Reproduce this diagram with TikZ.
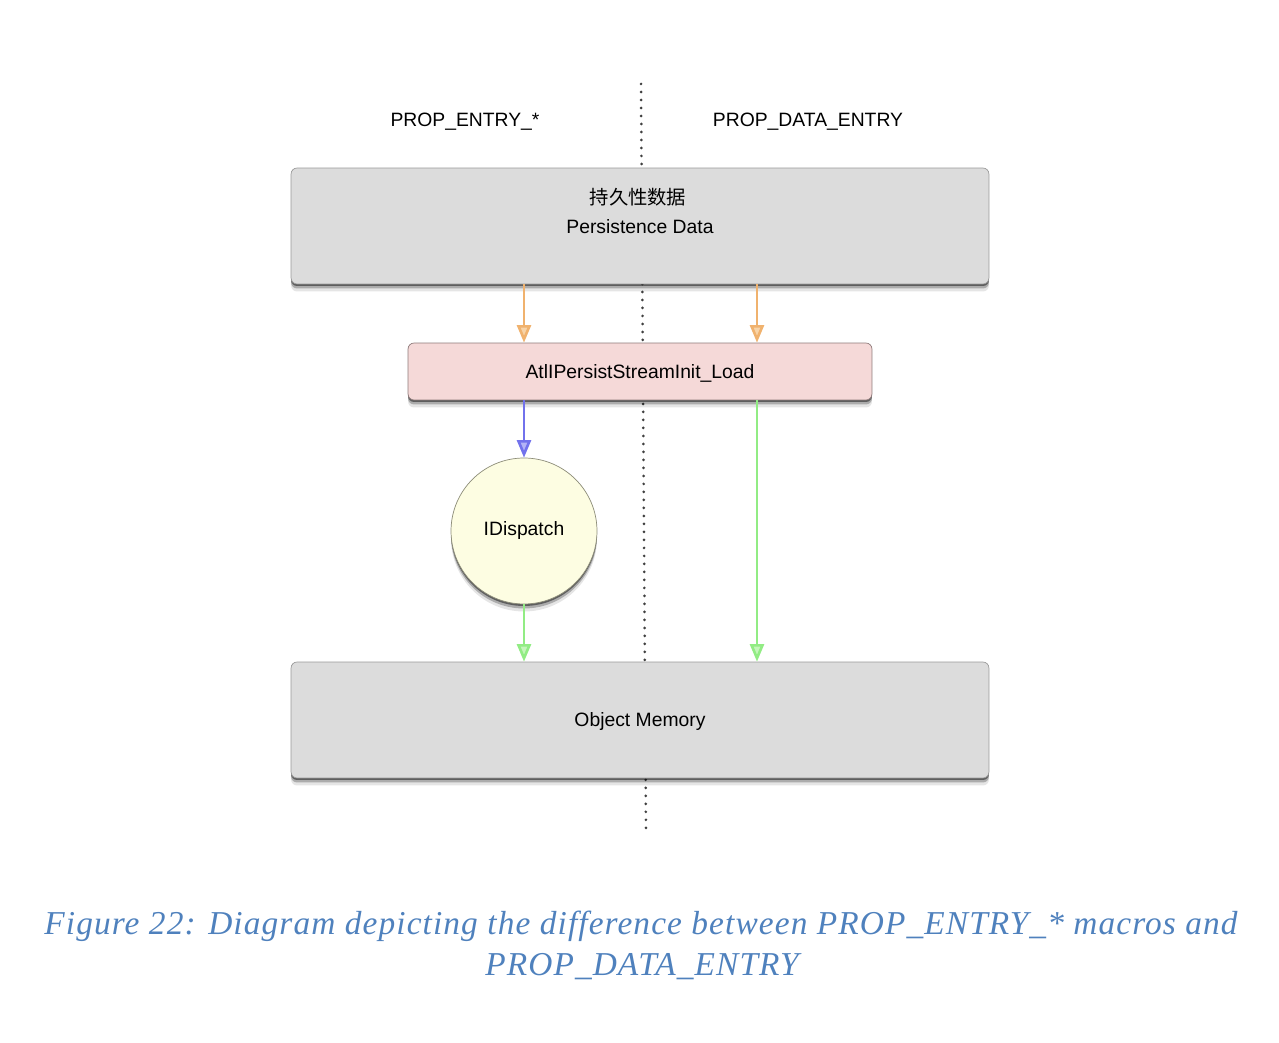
\documentclass[tikz,border=0pt]{standalone}
\usepackage{fontspec}
\setmainfont{Liberation Sans}
\newfontfamily\cjkfont{Noto Sans CJK SC}
\newfontfamily\capfont[LetterSpace=3.3]{Liberation Serif}
\usetikzlibrary{arrows.meta,shadows}

\definecolor{boxgray}{HTML}{DCDCDC}
\definecolor{boxline}{HTML}{9A9A9A}
\definecolor{loadpink}{HTML}{F5D9D8}
\definecolor{loadline}{HTML}{8E7A7A}
\definecolor{dispfill}{HTML}{FDFDE2}
\definecolor{displine}{HTML}{8C8C78}
\definecolor{orangeline}{HTML}{F0B26E}
\definecolor{orangefill}{HTML}{F8D4A8}
\definecolor{blueline}{HTML}{7272EC}
\definecolor{bluefill}{HTML}{B4B4F6}
\definecolor{greenline}{HTML}{92EC84}
\definecolor{greenfill}{HTML}{C4F6BA}
\definecolor{captionblue}{HTML}{4F81BD}

\tikzset{
  softshadow/.style={drop shadow={shadow xshift=0pt, shadow yshift=-0.04cm, opacity=0.45, fill=black},
                     drop shadow={shadow xshift=0pt, shadow yshift=-0.09cm, opacity=0.25, fill=black},
                     drop shadow={shadow xshift=0pt, shadow yshift=-0.15cm, opacity=0.1, fill=black}},
  blockbox/.style={draw=boxline, fill=boxgray, rounded corners=0.12cm, softshadow,
                   minimum width=13.96cm, minimum height=2.32cm},
  loadbox/.style={draw=loadline, fill=loadpink, rounded corners=0.12cm, softshadow,
                  minimum width=9.28cm, minimum height=1.14cm},
  dispcircle/.style={circle, draw=displine, fill=dispfill, softshadow, minimum size=2.92cm},
  boxtext/.style={font=\fontsize{11}{13}\selectfont},
  colhead/.style={font=\fontsize{11}{13}\selectfont},
  divider/.style={draw=black!75, line width=1.7pt, line cap=round, dash pattern=on 0pt off 0.16cm},
  orangearrow/.style={draw=orangeline, line width=1.5pt, -{Triangle[length=10pt,width=8pt,fill=orangefill]}},
  bluearrow/.style={draw=blueline, line width=1.5pt, -{Triangle[length=10pt,width=8pt,fill=bluefill]}},
  greenarrow/.style={draw=greenline, line width=1.5pt, -{Triangle[length=10pt,width=8pt,fill=greenfill]}},
  caption/.style={text=captionblue, font=\capfont\itshape\fontsize{19}{23}\selectfont}
}

\begin{document}
\begin{tikzpicture}[x=0.02cm, y=-0.02cm]
\useasboundingbox (0,0) rectangle (1279,1043);
% dotted separator between the two columns
\coordinate (divtop) at (641,84);
\coordinate (divbot) at (646,835);
\draw[divider] (divtop) -- (divbot);
\coordinate (datacol) at (757,0);

\node[colhead] (lefthead) at (465,122) {PROP\_ENTRY\_*};
\node[colhead] (righthead) at (808,122) {PROP\_DATA\_ENTRY};

% boxes
\node[blockbox] (persist) at (640,226) {};
\node[boxtext] (persistcn) at (638,197) {\cjkfont 持久性数据};
\node[boxtext] (persisten) at (640,227) {Persistence Data};
\node[loadbox] (load) at (640,371.5) {};
\node[boxtext] (loadtext) at (640,373) {AtlIPersistStreamInit\_Load};
\node[dispcircle, boxtext] (idisp) at (524,531) {IDispatch};
\node[blockbox] (objmem) at (640,720) {};
\node[boxtext] (objmemtext) at (640,722) {Object Memory};

% connectors
\draw[orangearrow] (persist.south -| idisp) -- (load.north -| idisp);
\draw[orangearrow] (persist.south -| datacol) -- (load.north -| datacol);
\draw[bluearrow] (load.south -| idisp) -- (idisp.north);
\draw[greenarrow] (idisp.south) -- (objmem.north -| idisp);
\draw[greenarrow] (load.south -| datacol) -- (objmem.north -| datacol);

% caption
\node[caption] (capone) at (641,926) {Figure 22: Diagram depicting the difference between PROP\_ENTRY\_* macros and};
\node[caption] (captwo) at (642,967) {PROP\_DATA\_ENTRY};
\end{tikzpicture}
\end{document}
